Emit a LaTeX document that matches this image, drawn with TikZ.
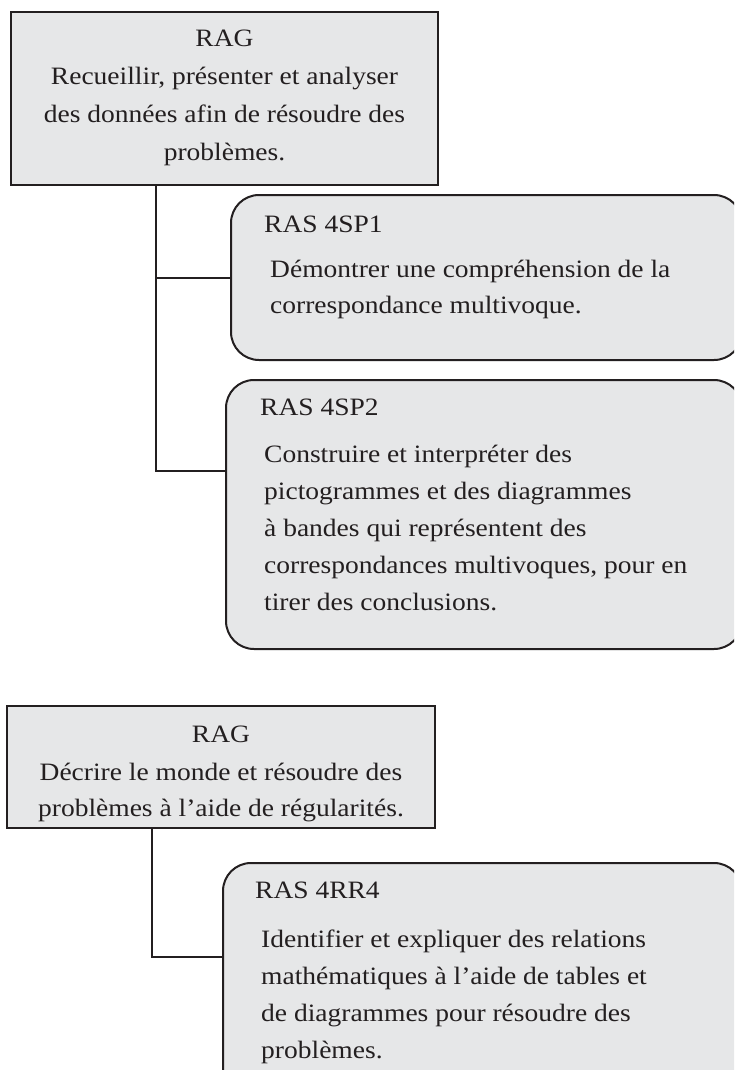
\documentclass[tikz,border=0pt]{standalone}
\usepackage{fontspec}
\setmainfont{Liberation Serif}[FakeStretch=1.1]
\definecolor{inkc}{HTML}{231F20}
\definecolor{boxfill}{HTML}{E6E7E8}
\begin{document}
\begin{tikzpicture}[x=1pt,y=-1pt,
  ink/.style={draw=inkc, line width=2pt},
  ragbox/.style={ink, fill=boxfill, rectangle, inner sep=0pt},
  rasbox/.style={ragbox, rounded corners=28pt},
  link/.style={draw=inkc, line width=2pt},
  txt/.style={anchor=base, inner sep=0pt, text=inkc, font=\fontsize{25}{37}\selectfont},
  txtl/.style={txt, anchor=base west}]
\useasboundingbox (0,0) rectangle (734,1070);
\clip (0,0) rectangle (734,1070);

% ---- first group: RAG and its two RAS boxes
\node[ragbox, minimum width=427pt, minimum height=173pt] (rag1) at (224.5,98.5) {};
\node[rasbox, minimum width=511pt, minimum height=165pt] (sp1) at (486.5,277.5) {};
\node[rasbox, minimum width=516pt, minimum height=269pt] (sp2) at (484,514.5) {};

\node[txt] (rag1a) at (224.5,47)  {RAG};
\node[txt] (rag1b) at (224.5,85)  {Recueillir, présenter et analyser};
\node[txt] (rag1c) at (224.5,122) {des données afin de résoudre des};
\node[txt] (rag1d) at (224.5,160) {problèmes.};

\node[txtl] (sp1h) at (264,232) {RAS 4SP1};
\node[txtl] (sp1a) at (270,277) {Démontrer une compréhension de la};
\node[txtl] (sp1b) at (270,313) {correspondance multivoque.};

\node[txtl] (sp2h) at (260,415) {RAS 4SP2};
\foreach \line [count=\i] in {{Construire et interpréter des},
    {pictogrammes et des diagrammes},
    {à bandes qui représentent des},
    {correspondances multivoques, pour en},
    {tirer des conclusions.}}
  \node[txtl] (sp2l\i) at (264,{462+37*(\i-1)}) {\line};

\coordinate (j1) at (156,471);
\draw[link] (rag1.south -| j1) -- (j1) -- (j1 -| sp2.west);
\draw[link] (j1 |- sp1.west) -- (sp1.west);

% ---- second group: RAG and its RAS box
\node[ragbox, minimum width=428pt, minimum height=122pt] (rag2) at (221,767) {};
\node[rasbox, minimum width=519pt, minimum height=237pt] (rr4) at (482.5,981.5) {};

\node[txt] (rag2a) at (221,742) {RAG};
\node[txt] (rag2b) at (221,780) {Décrire le monde et résoudre des};
\node[txt] (rag2c) at (221,816) {problèmes à l’aide de régularités.};

\node[txtl] (rr4h) at (255,898) {RAS 4RR4};
\foreach \line [count=\i] in {{Identifier et expliquer des relations},
    {mathématiques à l’aide de tables et},
    {de diagrammes pour résoudre des},
    {problèmes.}}
  \node[txtl] (rr4l\i) at (261,{947+37*(\i-1)}) {\line};

\coordinate (j2) at (152,957);
\draw[link] (rag2.south -| j2) -- (j2) -- (j2 -| rr4.west);
\end{tikzpicture}
\end{document}
